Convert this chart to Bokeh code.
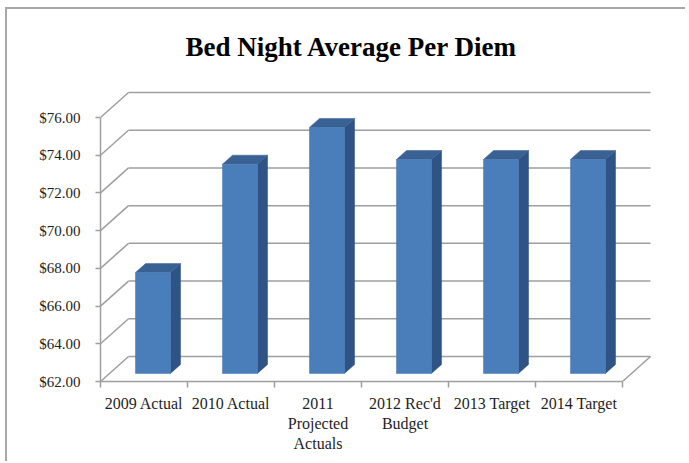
from bokeh.plotting import figure
from bokeh.models import Range1d, FixedTicker, PrintfTickFormatter
from bokeh.embed import file_html
from bokeh.resources import INLINE

# ---- data ----
categories = ["2009 Actual", "2010 Actual", "2011\nProjected\nActuals",
              "2012 Rec'd\nBudget", "2013 Target", "2014 Target"]
values = [67.35, 73.10, 75.05, 73.35, 73.35, 73.35]
y_ticks = [62, 64, 66, 68, 70, 72, 74, 76]
title_text = "Bed Night Average Per Diem"

# ---- geometry (pixels) ----
FRAME_W, FRAME_H = 560, 295
CAT_PX = 87.0                 # pixels per category
USD_PX = 264.0 / 14.0         # pixels per dollar
DEPTH_X_PX, DEPTH_Y_PX = 28.0, 25.0
Y0 = y_ticks[0]
Y1 = y_ticks[-1]
N = len(categories)

dxb = DEPTH_X_PX / CAT_PX
dyb = DEPTH_Y_PX / USD_PX
BAR_W = 35.0 / CAT_PX
D_FRONT = 0.32
D_BAR = 0.36

FONT = "Liberation Serif"
GRID = "#9f9f9f"
TXT = "#1e1e1e"

p = figure(width=678, height=451, output_backend="svg", toolbar_location=None,
           x_range=Range1d(0, FRAME_W / CAT_PX), y_range=Range1d(Y0, Y0 + FRAME_H / USD_PX),
           min_border_left=93, min_border_right=25, min_border_top=60, min_border_bottom=80)
p.frame_width = FRAME_W
p.frame_height = FRAME_H
p.outline_line_color = None
p.xgrid.visible = False
p.ygrid.visible = False
p.background_fill_color = "white"
p.border_fill_color = "white"
p.styles = {"margin-left": "5px", "margin-top": "7px",
            "border-top": "2px solid #a8a8a8", "border-left": "2px solid #a8a8a8"}

p.title.text = title_text
p.title.text_font = FONT
p.title.text_font_size = "27px"
p.title.text_font_style = "bold"
p.title.text_color = "black"
p.title.align = "left"
p.title.vertical_align = "top"
p.title.offset = 85
p.title.standoff = 45

# ---- 3D walls / gridlines ----
p.segment(x0=[dxb] * len(y_ticks), y0=[v + dyb for v in y_ticks],
          x1=[N + dxb] * len(y_ticks), y1=[v + dyb for v in y_ticks],
          line_color=GRID, line_width=1.5)
p.segment(x0=[0] * len(y_ticks), y0=y_ticks,
          x1=[dxb] * len(y_ticks), y1=[v + dyb for v in y_ticks],
          line_color=GRID, line_width=1.5)
p.segment(x0=[N], y0=[Y0], x1=[N + dxb], y1=[Y0 + dyb], line_color=GRID, line_width=1.5)

# ---- bars ----
fx = D_FRONT * dxb
fy = D_FRONT * dyb
bx = D_BAR * dxb
by = D_BAR * dyb
lefts = [i + 0.5 - BAR_W / 2 + fx for i in range(N)]
rights = [l + BAR_W for l in lefts]
bottoms = [Y0 + fy] * N
tops = [v + fy for v in values]

side_xs = [[r, r + bx, r + bx, r] for r in rights]
side_ys = [[b, b + by, t + by, t] for b, t in zip(bottoms, tops)]
top_xs = [[l, l + bx, r + bx, r] for l, r in zip(lefts, rights)]
top_ys = [[t, t + by, t + by, t] for t in tops]

p.patches(side_xs, side_ys, fill_color="#2f5384", line_color="#2f5384", line_width=0.5)
p.patches(top_xs, top_ys, fill_color="#3a6194", line_color="#3a6194", line_width=0.5)
p.quad(left=lefts, right=rights, bottom=bottoms, top=tops,
       fill_color="#4a7ebb", line_color="#4678b3", line_width=0.5)

# ---- axes ----
ya = p.yaxis[0]
ya.ticker = FixedTicker(ticks=y_ticks, minor_ticks=[])
ya.formatter = PrintfTickFormatter(format="$%.2f")
ya.bounds = (Y0, Y1)
ya.axis_line_color = GRID
ya.axis_line_width = 1.5
ya.major_tick_line_color = GRID
ya.major_tick_line_width = 1.5
ya.major_tick_out = 5
ya.major_tick_in = 0
ya.major_label_standoff = 15
ya.major_label_text_font = FONT
ya.major_label_text_font_size = "15px"
ya.major_label_text_color = TXT

xa = p.xaxis[0]
centers = [i + 0.5 for i in range(N)]
xa.ticker = FixedTicker(ticks=centers, minor_ticks=list(range(N + 1)))
xa.major_label_overrides = {c: lab for c, lab in zip(centers, categories)}
xa.bounds = (0, N)
xa.axis_line_color = GRID
xa.axis_line_width = 1.5
xa.major_tick_line_color = None
xa.minor_tick_line_color = GRID
xa.minor_tick_line_width = 1.5
xa.minor_tick_out = 6
xa.minor_tick_in = 0
xa.major_label_standoff = 7
xa.major_label_text_font = FONT
xa.major_label_text_font_size = "16px"
xa.major_label_text_color = TXT

open("out.html", "w").write(file_html(p, INLINE))
